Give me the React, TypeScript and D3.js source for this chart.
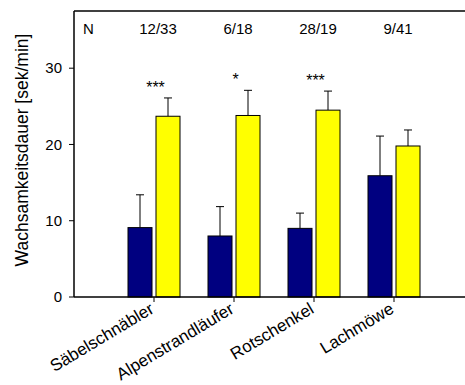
import React from "react";
import * as d3 from "d3";

const categories = ["Säbelschnäbler", "Alpenstrandläufer", "Rotschenkel", "Lachmöwe"];
const blueValues = [9.1, 8.0, 9.0, 15.9];
const blueErrors = [4.3, 3.85, 2.0, 5.2];
const yellowValues = [23.7, 23.8, 24.5, 19.8];
const yellowErrors = [2.4, 3.3, 2.5, 2.1];
const sampleSizes = ["12/33", "6/18", "28/19", "9/41"];
const significance = ["***", "*", "***", ""];
const yTicks = [0, 10, 20, 30];

const W = 465;
const H = 385;
const left = 74;
const right = 465;
const top = 11;
const bottom = 297;

export default function App() {
  const y = d3.scaleLinear().domain([0, 37.5]).range([bottom, top]);
  const x = d3.scaleLinear().domain([0, 4.8875]).range([left, right]);
  const barW = 24;
  const gap = 2;
  const font = "Liberation Sans, Arial, sans-serif";

  const errorBar = (cx: number, v: number, e: number, key: string) => (
    <g key={key} stroke="#000" strokeWidth={1}>
      <line x1={cx} x2={cx} y1={y(v)} y2={y(v + e)} />
      <line x1={cx - 4} x2={cx + 4} y1={y(v + e)} y2={y(v + e)} />
    </g>
  );

  return (
    <svg
      width={W}
      height={H}
      style={{ position: "absolute", left: 0, top: 0, background: "#fff" }}
      fontFamily={font}
    >
      {categories.map((c, i) => {
        const cx = x(i + 1);
        const bx = cx - gap - barW;
        const yx = cx + gap;
        return (
          <g key={c}>
            {errorBar(bx + barW / 2, blueValues[i], blueErrors[i], "be")}
            {errorBar(yx + barW / 2, yellowValues[i], yellowErrors[i], "ye")}
            <rect
              x={bx}
              y={y(blueValues[i])}
              width={barW}
              height={bottom - y(blueValues[i])}
              fill="#000080"
              stroke="#000"
              strokeWidth={1}
            />
            <rect
              x={yx}
              y={y(yellowValues[i])}
              width={barW}
              height={bottom - y(yellowValues[i])}
              fill="#ffff00"
              stroke="#000"
              strokeWidth={1}
            />
            {significance[i] && (
              <text
                x={cx + 1.5}
                y={y(yellowValues[i] + yellowErrors[i]) - 5}
                fontSize={16}
                textAnchor="middle"
              >
                {significance[i]}
              </text>
            )}
            <text x={cx + 4} y={34} fontSize={15} textAnchor="middle">
              {sampleSizes[i]}
            </text>
            <line x1={cx} x2={cx} y1={bottom} y2={bottom + 5} stroke="#000" strokeWidth={1} />
            <text
              transform={`translate(${cx + 1},${bottom + 15}) rotate(-31)`}
              fontSize={17}
              textAnchor="end"
            >
              {c}
            </text>
          </g>
        );
      })}
      <text x={83} y={34} fontSize={15}>
        N
      </text>
      {/* frame: left axis, top line and baseline */}
      <g stroke="#000" strokeWidth={1.5} fill="none">
        <line x1={left} x2={left} y1={top} y2={bottom} />
        <line x1={left} x2={right} y1={top} y2={top} />
        <line x1={left} x2={right} y1={bottom} y2={bottom} />
      </g>
      {yTicks.map((t) => (
        <g key={t}>
          <line x1={left - 5} x2={left} y1={y(t)} y2={y(t)} stroke="#000" strokeWidth={1} />
          <text x={left - 12} y={y(t)} dy="0.35em" fontSize={15} textAnchor="end">
            {t}
          </text>
        </g>
      ))}
      <text
        transform={`translate(28,150) rotate(-90)`}
        fontSize={17.5}
        textAnchor="middle"
      >
        Wachsamkeitsdauer [sek/min]
      </text>
    </svg>
  );
}
